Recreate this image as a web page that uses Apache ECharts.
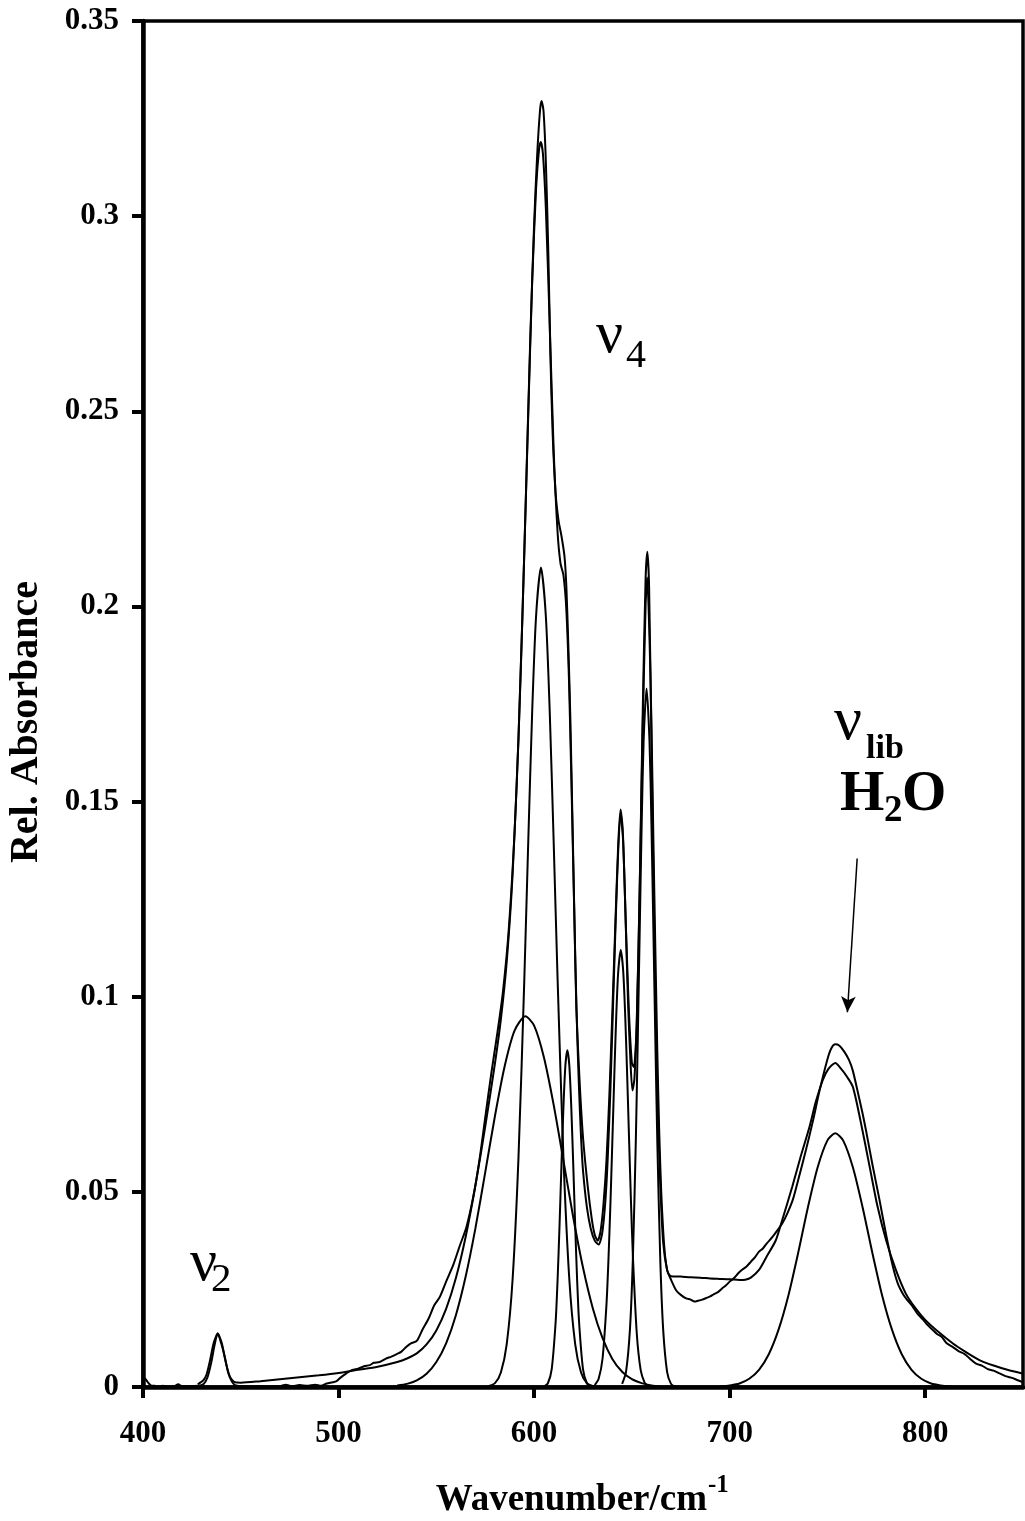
<!DOCTYPE html>
<html><head><meta charset="utf-8">
<script src="https://cdn.jsdelivr.net/npm/echarts@6/dist/echarts.min.js"></script>
<style>html,body{margin:0;padding:0;background:#fff}#c{width:1025px;height:1521px}</style>
</head><body><div id="c"></div>
<script>
// ---- data (wavenumber cm^-1, relative absorbance) ----
const xTickValues = [400, 500, 600, 700, 800];
const yTickLabels = ['0', '0.05', '0.1', '0.15', '0.2', '0.25', '0.3', '0.35'];

const measured = [[400,0.0025],[401,0.0022],[402.5,0.0012],[404,0.0004],[406,0.0003],[408,0.0001],[410,0.0003],[413,0.0001],[416,0.0002],[418,0.0007],[420,0.0002],[424,0.0002],[428,0.0003],[431,0.0008],[433,0.0025],[435,0.0065],[436.5,0.0105],[438.2,0.0137],[440,0.0112],[441.9,0.0075],[443.5,0.0038],[445.3,0.0015],[447,0.0005],[450,0.0002],[455,0.0001],[460,0.0002],[465,0.0001],[470,0.0002],[473,0.0006],[476,0.0002],[480,0.0005],[484,0.0003],[488,0.0006],[491,0.0003],[494,0.0009],[497,0.0012],[499,0.0015],[501,0.0024],[504,0.0035],[507,0.0044],[510,0.0047],[513,0.0053],[516,0.0056],[518,0.0062],[521,0.0064],[524,0.0072],[527,0.0078],[530,0.0085],[532,0.009],[534.7,0.0103],[537,0.0112],[540,0.0118],[543,0.0148],[546,0.0175],[549,0.021],[551.8,0.0231],[555,0.027],[558.6,0.0312],[562,0.0362],[565.4,0.041],[569,0.049],[572,0.058],[575,0.069],[578,0.08],[581,0.09],[584,0.101],[587,0.117],[590,0.142],[592,0.166],[594,0.197],[596,0.232],[598,0.268],[600,0.298],[601.5,0.315],[603,0.327],[603.8,0.3295],[604.8,0.327],[606,0.314],[607.3,0.29],[608.3,0.265],[609.5,0.244],[611,0.229],[612.5,0.222],[614,0.218],[615.5,0.213],[616.5,0.205],[617.5,0.19],[618.5,0.172],[619.5,0.148],[620.7,0.118],[621.6,0.097],[623.3,0.078],[625,0.064],[627.5,0.051],[629.5,0.043],[631,0.039],[632.5,0.0375],[634,0.04],[635.5,0.047],[637,0.058],[638.5,0.075],[640,0.096],[641.5,0.118],[643,0.139],[644.2,0.148],[645.3,0.143],[646.5,0.125],[648,0.099],[649.3,0.083],[650.3,0.076],[651.3,0.079],[652.5,0.094],[654,0.128],[655.5,0.172],[657,0.207],[657.9,0.214],[658.8,0.205],[660,0.165],[661.6,0.112],[663,0.076],[664.5,0.052],[666,0.037],[668,0.03],[670,0.0275],[672.6,0.0248],[675,0.0236],[677.7,0.0227],[680,0.0224],[682,0.0219],[683.8,0.0221],[686,0.0224],[688,0.0228],[690,0.0232],[692,0.0238],[694,0.0243],[696,0.0252],[698,0.026],[700,0.027],[702,0.0278],[704.5,0.0292],[706.5,0.0301],[708.5,0.0308],[711,0.0322],[713,0.0333],[715,0.0347],[717,0.0355],[719,0.0368],[722,0.0385],[724.5,0.0402],[727,0.042],[729.5,0.0445],[732.3,0.048],[735,0.053],[739,0.0607],[742.5,0.068],[746,0.076],[750,0.084],[752,0.0868],[754,0.0878],[756,0.0875],[758.5,0.086],[761,0.0838],[763,0.081],[766,0.0745],[768,0.07],[770,0.065],[773,0.057],[776.6,0.048],[780,0.039],[783.4,0.031],[786,0.0265],[789,0.0235],[791,0.0222],[793.6,0.0206],[796,0.0188],[799,0.0172],[801,0.016],[803.9,0.0146],[806,0.0136],[808.5,0.0128],[811,0.0112],[814,0.0103],[817,0.0092],[820,0.0085],[823,0.0072],[826,0.006],[829,0.0055],[832,0.0046],[835,0.0042],[838,0.0035],[841,0.0028],[844,0.0024],[847,0.0018],[850,0.0012]];

const fitSum = [[428,0.0007],[431,0.0018],[432.5,0.0032],[434,0.0062],[436,0.011],[437.2,0.0128],[438.2,0.0137],[439.2,0.0128],[440.4,0.011],[442.4,0.0062],[444,0.0032],[445.5,0.0018],[447,0.0012],[450,0.0011],[460,0.0015],[470,0.002],[480,0.0025],[490,0.003],[500,0.0036],[510,0.0044],[520,0.0052],[530,0.0064],[535,0.0073],[540,0.0086],[545,0.0109],[550,0.0145],[555,0.02],[560,0.0279],[565,0.0385],[570,0.0517],[575,0.0667],[580,0.083],[583,0.0942],[586,0.109],[589,0.1313],[592,0.1662],[595,0.214],[597,0.2491],[599,0.283],[601,0.307],[602.5,0.317],[603.4,0.319],[604.5,0.316],[606,0.302],[608,0.272],[610,0.24],[612,0.219],[613.5,0.211],[615,0.208],[616.5,0.199],[618,0.178],[620,0.134],[621,0.111],[622,0.091],[623,0.076],[624,0.064],[625,0.0555],[627,0.046],[629,0.0405],[631,0.0375],[633,0.0365],[635,0.04],[637,0.052],[639,0.076],[641,0.108],[642.5,0.131],[644.2,0.147],[645.5,0.14],[647,0.117],[648.5,0.096],[650,0.083],[651,0.082],[652.5,0.093],[654,0.128],[655.5,0.168],[657,0.2],[657.8,0.2075],[659,0.192],[660,0.17],[661,0.14],[662,0.112],[663,0.086],[664,0.065],[665,0.05],[666,0.04],[667,0.0335],[668,0.03],[669,0.0288],[670,0.0284],[675,0.0283],[680,0.0281],[685,0.028],[690,0.0278],[695,0.0277],[700,0.0276],[705,0.0274],[708,0.0275],[711,0.0281],[715,0.03],[719,0.0335],[723.6,0.0376],[727,0.043],[732,0.0513],[736,0.0585],[740.8,0.0666],[744,0.073],[747.6,0.0786],[750.5,0.0815],[754,0.083],[757,0.0815],[760,0.0795],[763,0.0769],[767,0.068],[771.6,0.0564],[775.5,0.0465],[780,0.0376],[785,0.03],[790,0.024],[795,0.0202],[800,0.0172],[807,0.014],[814,0.0112],[820,0.0092],[827.7,0.0069],[835,0.0055],[842,0.0044],[850,0.0034]];

const band595 = [[530,0.0004],[535,0.0008],[540,0.0017],[545,0.0034],[550,0.0064],[555,0.0112],[560,0.0184],[565,0.0283],[570,0.0407],[575,0.055],[580,0.0695],[585,0.0823],[590,0.0913],[595.5,0.095],[600,0.0926],[605,0.0845],[610,0.0723],[615,0.058],[620,0.0435],[625,0.0306],[630,0.0202],[635,0.0125],[640,0.0072],[645,0.0039],[650,0.002],[655,0.001],[660,0.0004],[665,0.0001]];

const band604 = [[576,0.0001],[580,0.001],[583,0.0037],[586,0.011],[589,0.0276],[592,0.0587],[595,0.1046],[597,0.1397],[599,0.1728],[601,0.1975],[603.5,0.21],[606,0.1975],[608,0.1728],[610,0.1397],[612,0.1046],[615,0.0587],[618,0.0276],[621,0.011],[624,0.0037],[627,0.001],[631,0.0001]];

const band617 = [[605,0.0001],[607,0.0009],[609,0.0046],[611,0.0166],[612,0.0274],[613,0.0414],[614,0.0571],[615,0.0718],[616,0.0824],[617,0.0863],[618,0.0824],[619,0.0718],[620,0.0571],[621,0.0414],[622,0.0274],[623,0.0166],[625,0.0046],[627,0.0009],[629,0.0001]];

const band644 = [[631,0.0005],[633,0.0021],[635,0.0073],[637,0.0211],[638,0.0324],[639,0.0466],[640,0.0628],[641,0.0797],[642,0.095],[643,0.1063],[644.3,0.112],[645.5,0.107],[646.5,0.0963],[647.5,0.0813],[648.5,0.0645],[649.5,0.048],[650.5,0.0337],[652.5,0.0137],[654.5,0.0043],[656.5,0.0011],[658,0.0003]];

const band657 = [[645,0.0008],[647,0.0039],[649,0.0147],[650.5,0.0329],[652,0.0629],[653,0.0888],[654,0.117],[655,0.1442],[656,0.1656],[657.5,0.179],[659,0.1656],[660,0.1442],[661,0.117],[662,0.0888],[663,0.0629],[664.5,0.0329],[666,0.0147],[668,0.0039],[670,0.0008],[672,0.0001]];

const band754 = [[695,0.0001],[700,0.0004],[705,0.0009],[710,0.0021],[715,0.0044],[720,0.0084],[725,0.0147],[730,0.0234],[735,0.0343],[740,0.046],[745,0.0563],[750,0.0632],[754,0.065],[758,0.0632],[763,0.0563],[768,0.046],[773,0.0343],[778,0.0234],[783,0.0147],[788,0.0084],[793,0.0044],[798,0.0021],[803,0.0009],[808,0.0004],[813,0.0001]];

// arrow for the H2O libration band: [start, end] in data coordinates
const arrowLib = [[765.2, 0.1354], [760.2, 0.096]];

const serif = '"Liberation Serif","Times New Roman",serif';
const chart = echarts.init(document.getElementById('c'), null, {renderer: 'canvas'});

function lineSeries(data, extra) {
  return Object.assign({
    type: 'line', data: data, showSymbol: false, symbol: 'none', smooth: 0.25,
    lineStyle: {color: '#000', width: 2}, silent: true, animation: false, z: 3
  }, extra || {});
}

chart.setOption({
  backgroundColor: '#fff',
  animation: false,
  grid: {left: 143, right: 2, top: 21, bottom: 134, show: true, borderColor: '#000', borderWidth: 3.5, backgroundColor: 'transparent'},
  xAxis: {
    type: 'value', min: 400, max: 850, interval: 100,
    axisLine: {show: true, lineStyle: {color: '#000', width: 4.5}},
    axisTick: {show: true, length: 11, lineStyle: {color: '#000', width: 4}, customValues: xTickValues},
    axisLabel: {color: '#000', fontFamily: serif, fontWeight: 'bold', fontSize: 31, margin: 31, customValues: xTickValues},
    splitLine: {show: false}
  },
  yAxis: {
    type: 'value', min: 0, max: 0.35, interval: 0.05,
    axisLine: {show: true, lineStyle: {color: '#000', width: 4.5}},
    axisTick: {show: true, length: 11, lineStyle: {color: '#000', width: 4}},
    axisLabel: {color: '#000', fontFamily: serif, fontWeight: 'bold', fontSize: 31, margin: 24,
      formatter: function (v, i) { return yTickLabels[i] !== undefined ? yTickLabels[i] : ''; }},
    splitLine: {show: false}
  },
  series: [
    lineSeries(band595),
    lineSeries(band604),
    lineSeries(band617),
    lineSeries(band644),
    lineSeries(band657),
    lineSeries(band754),
    lineSeries(fitSum),
    lineSeries(measured, {
      markLine: {
        silent: true, animation: false, symbol: ['none', 'arrow'], symbolSize: [11, 16],
        lineStyle: {color: '#000', width: 1.5, type: 'solid'}, label: {show: false},
        data: [[{coord: arrowLib[0]}, {coord: arrowLib[1]}]]
      }
    })
  ],
  graphic: [
    // axis names
    {type: 'text', x: 27, y: 722, rotation: Math.PI / 2,
      style: {text: 'Rel. Absorbance', font: 'bold 40px ' + serif, fill: '#000', textAlign: 'center', textVerticalAlign: 'middle'}},
    {type: 'text', x: 707, y: 1500,
      style: {text: 'Wavenumber/cm', font: 'bold 37px ' + serif, fill: '#000', textAlign: 'right', textVerticalAlign: 'middle'}},
    {type: 'text', x: 708, y: 1486,
      style: {text: '-1', font: 'bold 25px ' + serif, fill: '#000', textAlign: 'left', textVerticalAlign: 'middle'}},
    // nu4
    {type: 'text', x: 596, y: 366, style: {text: '\u03BD', font: '60px ' + serif, fill: '#000', textAlign: 'left', textVerticalAlign: 'bottom'}},
    {type: 'text', x: 626, y: 376, style: {text: '4', font: '40px ' + serif, fill: '#000', textAlign: 'left', textVerticalAlign: 'bottom'}},
    // nu2
    {type: 'text', x: 190, y: 1294, style: {text: '\u03BD', font: '60px ' + serif, fill: '#000', textAlign: 'left', textVerticalAlign: 'bottom'}},
    {type: 'text', x: 211, y: 1301, style: {text: '2', font: '41px ' + serif, fill: '#000', textAlign: 'left', textVerticalAlign: 'bottom'}},
    // nu lib
    {type: 'text', x: 834, y: 754, style: {text: '\u03BD', font: '62px ' + serif, fill: '#000', textAlign: 'left', textVerticalAlign: 'bottom'}},
    {type: 'text', x: 866, y: 766, style: {text: 'lib', font: 'bold 34px ' + serif, fill: '#000', textAlign: 'left', textVerticalAlign: 'bottom'}},
    // H2O
    {type: 'text', x: 840, y: 824, style: {text: 'H', font: 'bold 57px ' + serif, fill: '#000', textAlign: 'left', textVerticalAlign: 'bottom'}},
    {type: 'text', x: 884, y: 830, style: {text: '2', font: 'bold 37px ' + serif, fill: '#000', textAlign: 'left', textVerticalAlign: 'bottom'}},
    {type: 'text', x: 902, y: 824, style: {text: 'O', font: 'bold 57px ' + serif, fill: '#000', textAlign: 'left', textVerticalAlign: 'bottom'}}
  ]
});
</script>
</body></html>
